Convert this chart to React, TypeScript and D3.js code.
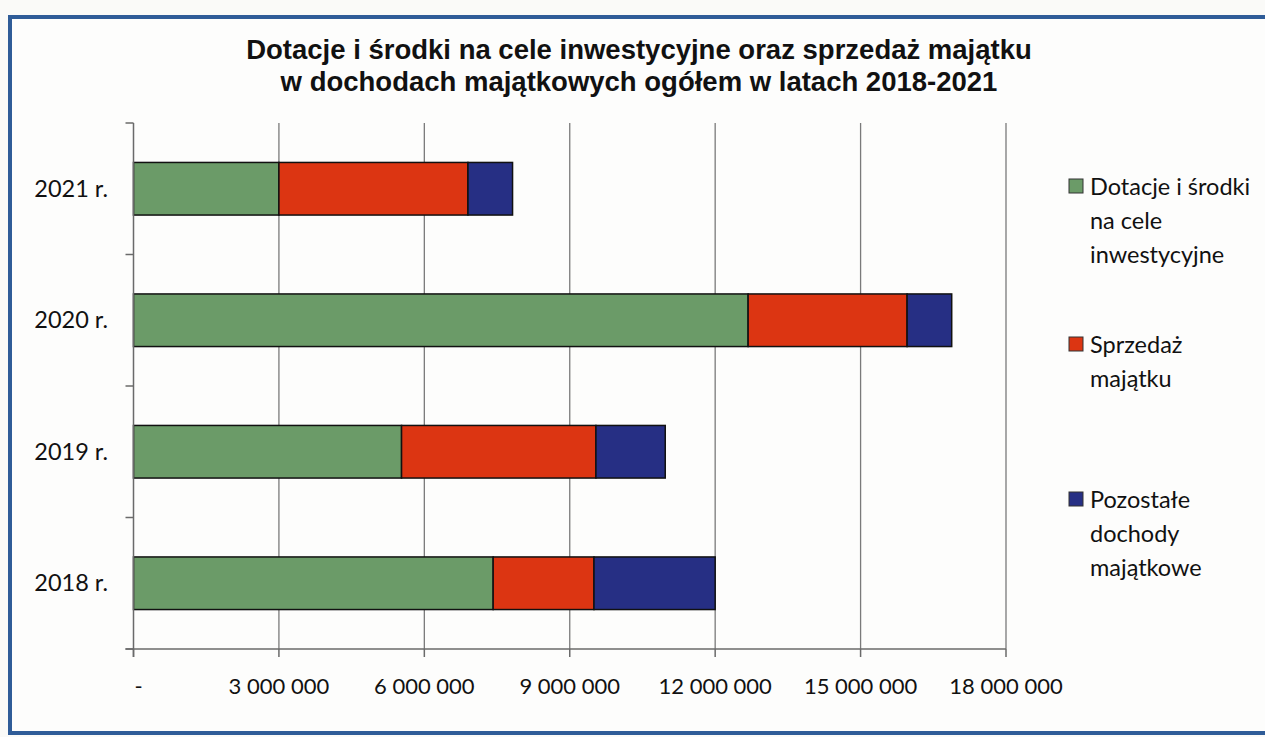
import React from "react";
import * as d3 from "d3";

const categories = ["2021 r.", "2020 r.", "2019 r.", "2018 r."];
const seriesNames = [
  ["Dotacje i środki", "na cele", "inwestycyjne"],
  ["Sprzedaż", "majątku"],
  ["Pozostałe", "dochody", "majątkowe"],
];
const dotacje = [3000000, 12680000, 5530000, 7420000];
const sprzedaz = [3900000, 3280000, 4010000, 2080000];
const pozostale = [920000, 920000, 1430000, 2500000];
const xTicks = [0, 3000000, 6000000, 9000000, 12000000, 15000000, 18000000];
const colors = ["#6b9b68", "#dc3512", "#262f84"];
const titleLines = [
  "Dotacje i środki na cele inwestycyjne oraz sprzedaż majątku",
  "w dochodach majątkowych ogółem w latach 2018-2021",
];

const W = 1265;
const H = 737;
const left = 133.5;
const right = 1006;
const top = 123;
const bottom = 649;

export default function App() {
  const x = d3.scaleLinear().domain([0, 18000000]).range([left, right]);
  const y = d3.scaleBand().domain(categories).range([top, bottom]).paddingInner(0.6).paddingOuter(0.3);
  const band = d3.scaleBand().domain(categories).range([top, bottom]);

  const rows = categories.map((c, i) => ({ c, vals: [dotacje[i], sprzedaz[i], pozostale[i]] }));
  const stack = d3.stack<any>().keys(["0", "1", "2"]).value((d, k) => d.vals[+k]);
  const stacked = stack(rows as any);

  const fmt = (v: number) => (v === 0 ? "-" : d3.format(",")(v).replace(/,/g, " "));
  const font = "Lato, 'Open Sans', sans-serif";

  const legendY = [187, 345, 500];

  return (
    <div style={{ position: "fixed", left: 0, top: 0 }}>
      <svg width={W} height={H} style={{ display: "block", background: "#fafaf8" }}>
        <rect x={10} y={17} width={W + 20} height={H - 21} fill="#fdfdfc" stroke="#2f5c98" strokeWidth={4} />
        {titleLines.map((t, i) => (
          <text key={i} x={639} y={59 + i * 32} textAnchor="middle" fontFamily="'Liberation Sans', Arial, sans-serif" fontWeight="bold" fontSize={27.5} fill="#111">
            {t}
          </text>
        ))}
        {/* gridlines */}
        {xTicks.slice(1).map((t) => (
          <line key={t} x1={x(t)} x2={x(t)} y1={top} y2={bottom} stroke="#7a7a7a" strokeWidth={1.3} />
        ))}
        {/* bars */}
        {stacked.map((s, si) =>
          s.map((d, i) => (
            <rect
              key={si + "-" + i}
              x={x(d[0])}
              y={y(categories[i])!}
              width={x(d[1]) - x(d[0])}
              height={y.bandwidth()}
              fill={colors[si]}
              stroke="#111"
              strokeWidth={1.5}
            />
          ))
        )}
        {/* y axis */}
        <line x1={left} x2={left} y1={top} y2={bottom + 8} stroke="#6a6a6a" strokeWidth={1.5} />
        {[...categories.map((c) => band(c)!), bottom].map((yy, i) => (
          <line key={i} x1={left - 8} x2={left} y1={yy} y2={yy} stroke="#6a6a6a" strokeWidth={1.5} />
        ))}
        {categories.map((c) => (
          <text key={c} x={108} y={band(c)! + band.bandwidth() / 2 + 8} textAnchor="end" fontFamily={font} fontSize={23.5} fill="#111">
            {c}
          </text>
        ))}
        {/* x axis */}
        <line x1={left - 8} x2={right} y1={bottom} y2={bottom} stroke="#6a6a6a" strokeWidth={1.5} />
        {xTicks.map((t) => (
          <line key={t} x1={x(t)} x2={x(t)} y1={bottom} y2={bottom + 8} stroke="#6a6a6a" strokeWidth={1.5} />
        ))}
        {xTicks.map((t) => (
          <text key={t} x={t === 0 ? x(t) + 5 : x(t)} y={694} textAnchor="middle" fontFamily={font} fontSize={22} fill="#111">
            {fmt(t)}
          </text>
        ))}
        {/* legend */}
        {seriesNames.map((lines, i) => (
          <g key={i}>
            <rect x={1069} y={legendY[i] - 8} width={14} height={14} fill={colors[i]} stroke="#333" strokeWidth={1} />
            {lines.map((l, j) => (
              <text key={j} x={1090} y={legendY[i] + 8 + j * 34} fontFamily={font} fontSize={23.5} fill="#111">
                {l}
              </text>
            ))}
          </g>
        ))}
      </svg>
    </div>
  );
}
